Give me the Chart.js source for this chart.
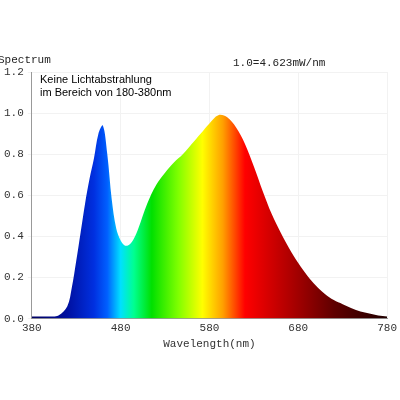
<!DOCTYPE html><html><head><script src="https://cdn.jsdelivr.net/npm/chart.js"></script>
<style>body{margin:0;background:#fff}#w{width:400px;height:400px}</style></head><body><div id="w"><canvas id="c"></canvas></div>
<script>
const wavelengths=[380,390,400,410,420,425,430,435,440,445,450,455,460,465,470,475,480,485,490,495,500,510,520,530,540,550,560,570,580,590,600,610,620,630,640,650,660,670,680,690,700,710,720,730,740,750,760,770,780];
const intensity=[0.01,0.01,0.01,0.015,0.06,0.15,0.28,0.42,0.56,0.68,0.78,0.9,0.94,0.8,0.58,0.44,0.38,0.355,0.36,0.39,0.44,0.56,0.65,0.71,0.76,0.8,0.85,0.9,0.95,0.99,0.98,0.93,0.85,0.74,0.62,0.51,0.42,0.34,0.27,0.21,0.16,0.12,0.09,0.07,0.05,0.035,0.025,0.015,0.01];
const xTicks=[380,480,580,680,780];
const mono="'Liberation Mono','DejaVu Sans Mono',monospace";
const stops=[[380,'#000060'],[420,'#0010a0'],[450,'#0030e0'],[465,'#0060ff'],[480,'#00e0ff'],[495,'#00ff90'],[515,'#00e000'],[545,'#80ff00'],[572,'#ffff00'],[595,'#ffa000'],[620,'#ff0000'],[670,'#b00000'],[720,'#600000'],[780,'#200000']];
const texts={id:'t',afterDraw(ch){const g=ch.ctx;g.save();g.fillStyle='#222';g.font="11px "+mono;g.textBaseline='middle';
g.fillText('Spectrum',-2,60);g.fillText('1.0=4.623mW/nm',233,63);
g.font="11px 'Liberation Sans',Arial,sans-serif";g.fillStyle='#000';g.fillText('Keine Lichtabstrahlung',40,80);g.fillText('im Bereich von 180-380nm',40,93);g.restore();}};
new Chart(document.getElementById('c'),{type:'line',data:{datasets:[{data:wavelengths.map((x,i)=>({x,y:intensity[i]})),pointRadius:0,borderWidth:0,tension:0.35,fill:'origin',
backgroundColor(ctx){const a=ctx.chart.chartArea;if(!a)return '#00f';const s=ctx.chart.scales.x;const gr=ctx.chart.ctx.createLinearGradient(a.left,0,a.right,0);stops.forEach(([w,c])=>gr.addColorStop((s.getPixelForValue(w)-a.left)/(a.right-a.left),c));return gr;}}]},
options:{responsive:true,maintainAspectRatio:false,animation:false,layout:{padding:{left:0,right:8,top:72,bottom:49}},
plugins:{legend:{display:false},tooltip:{enabled:false}},
scales:{x:{type:'linear',min:380,max:780,afterBuildTicks(s){s.ticks=xTicks.map(v=>({value:v}));},grid:{color:'#f2f2f2',drawTicks:false,tickLength:0},border:{color:'#999'},ticks:{color:'#333',font:{family:mono,size:11},padding:3,maxRotation:0},
title:{display:true,text:'Wavelength(nm)',color:'#333',font:{family:mono,size:11},padding:0}},
y:{min:0,max:1.2,ticks:{stepSize:0.2,color:'#333',font:{family:mono,size:11},callback:v=>v.toFixed(1),padding:4},grid:{color:'#f2f2f2',drawTicks:true,tickLength:4},border:{color:'#999'}}}},plugins:[texts]});
</script></body></html>
